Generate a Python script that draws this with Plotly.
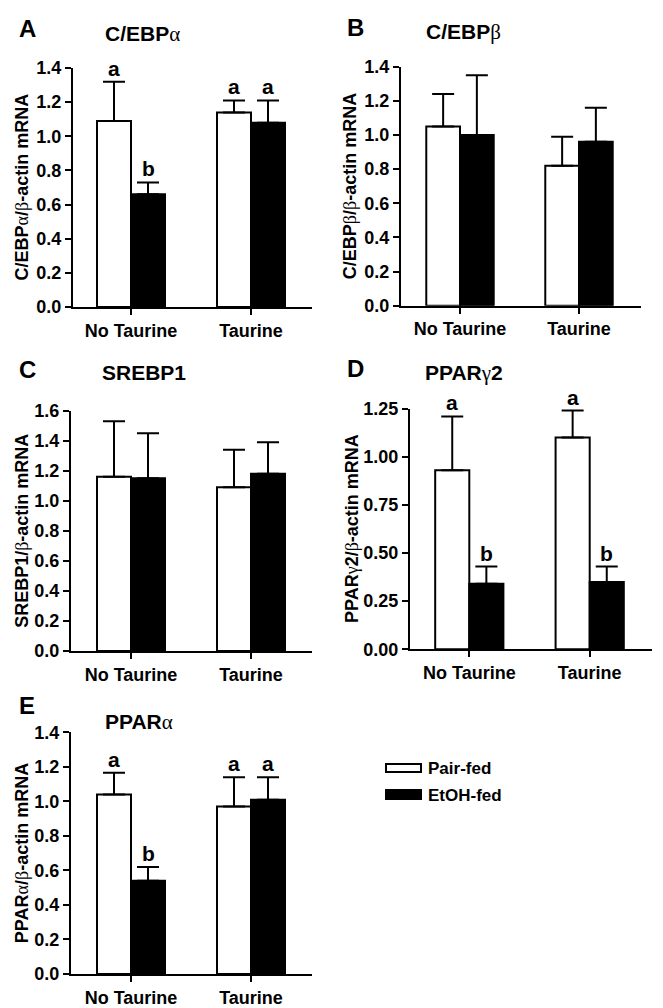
import plotly.graph_objects as go

# ---------------- data ----------------
categories = ["No Taurine", "Taurine"]
series_names = ["Pair-fed", "EtOH-fed"]

cebpa_pair = [1.09, 1.14]
cebpa_pair_sem = [0.23, 0.07]
cebpa_etoh = [0.66, 1.08]
cebpa_etoh_sem = [0.07, 0.13]
cebpa_pair_letters = ["a", "a"]
cebpa_etoh_letters = ["b", "a"]

cebpb_pair = [1.05, 0.82]
cebpb_pair_sem = [0.19, 0.17]
cebpb_etoh = [1.00, 0.96]
cebpb_etoh_sem = [0.35, 0.20]
cebpb_pair_letters = ["", ""]
cebpb_etoh_letters = ["", ""]

srebp1_pair = [1.16, 1.09]
srebp1_pair_sem = [0.37, 0.25]
srebp1_etoh = [1.15, 1.18]
srebp1_etoh_sem = [0.30, 0.21]
srebp1_pair_letters = ["", ""]
srebp1_etoh_letters = ["", ""]

pparg2_pair = [0.93, 1.10]
pparg2_pair_sem = [0.28, 0.14]
pparg2_etoh = [0.34, 0.35]
pparg2_etoh_sem = [0.09, 0.08]
pparg2_pair_letters = ["a", "a"]
pparg2_etoh_letters = ["b", "b"]

ppara_pair = [1.04, 0.97]
ppara_pair_sem = [0.125, 0.17]
ppara_etoh = [0.54, 1.01]
ppara_etoh_sem = [0.08, 0.13]
ppara_pair_letters = ["a", "a"]
ppara_etoh_letters = ["b", "a"]

# ---------------- layout helpers ----------------
W, H = 663, 1008
FONT = "Arial, Liberation Sans, sans-serif"
GREEK = "<span style='font-family:Liberation Serif;font-weight:normal'>%s</span>"
al, be, ga = GREEK % "α", GREEK % "β", GREEK % "γ"

def px(x):
    return x / W

def py(y):
    return 1 - y / H

panels = [
    dict(letter="A", title="C/EBP" + al, ytitle="C/EBP" + al + "/" + be + "-actin mRNA",
         pair=cebpa_pair, pair_sem=cebpa_pair_sem, etoh=cebpa_etoh, etoh_sem=cebpa_etoh_sem,
         pl=cebpa_pair_letters, el=cebpa_etoh_letters,
         ymax=1.4, dtick=0.2, fmt=".1f",
         ax0=73, ax1=312, c0=131, sp=120, y0=307, y1=68,
         lx=17, ly=28, tx=142, ty=34, yx=21),
    dict(letter="B", title="C/EBP" + be, ytitle="C/EBP" + be + "/" + be + "-actin mRNA",
         pair=cebpb_pair, pair_sem=cebpb_pair_sem, etoh=cebpb_etoh, etoh_sem=cebpb_etoh_sem,
         pl=cebpb_pair_letters, el=cebpb_etoh_letters,
         ymax=1.4, dtick=0.2, fmt=".1f",
         ax0=401, ax1=641, c0=460, sp=119, y0=305.7, y1=66.7,
         lx=345, ly=27, tx=463, ty=32, yx=350),
    dict(letter="C", title="SREBP1", ytitle="SREBP1/" + be + "-actin mRNA",
         pair=srebp1_pair, pair_sem=srebp1_pair_sem, etoh=srebp1_etoh, etoh_sem=srebp1_etoh_sem,
         pl=srebp1_pair_letters, el=srebp1_etoh_letters,
         ymax=1.6, dtick=0.2, fmt=".1f",
         ax0=71, ax1=312, c0=131, sp=120, y0=651, y1=410.7,
         lx=17, ly=369, tx=144, ty=372, yx=22),
    dict(letter="D", title="PPAR" + ga + "2", ytitle="PPAR" + ga + "2/" + be + "-actin mRNA",
         pair=pparg2_pair, pair_sem=pparg2_pair_sem, etoh=pparg2_etoh, etoh_sem=pparg2_etoh_sem,
         pl=pparg2_pair_letters, el=pparg2_etoh_letters,
         ymax=1.25, dtick=0.25, fmt=".2f",
         ax0=410, ax1=651.7, c0=469.3, sp=120.4, y0=649.3, y1=408.7,
         lx=345, ly=368, tx=464, ty=373, yx=352),
    dict(letter="E", title="PPAR" + al, ytitle="PPAR" + al + "/" + be + "-actin mRNA",
         pair=ppara_pair, pair_sem=ppara_pair_sem, etoh=ppara_etoh, etoh_sem=ppara_etoh_sem,
         pl=ppara_pair_letters, el=ppara_etoh_letters,
         ymax=1.4, dtick=0.2, fmt=".1f",
         ax0=71, ax1=312, c0=131, sp=120, y0=974, y1=732.3,
         lx=17, ly=705, tx=139, ty=722, yx=22),
]

BW = 34 / 120  # bar width in category units

fig = go.Figure()
annotations = []
layout_axes = {}

for k, p in enumerate(panels, start=1):
    xa = "x" if k == 1 else "x%d" % k
    ya = "y" if k == 1 else "y%d" % k
    common_err = dict(type="data", symmetric=False, arrayminus=[0, 0],
                      color="black", thickness=2, width=11)
    fig.add_trace(go.Bar(
        x=categories, y=p["pair"], name=series_names[0], xaxis=xa, yaxis=ya,
        offset=-BW, width=BW, marker=dict(color="white", line=dict(color="black", width=2)),
        error_y=dict(array=p["pair_sem"], **common_err), showlegend=False))
    fig.add_trace(go.Bar(
        x=categories, y=p["etoh"], name=series_names[1], xaxis=xa, yaxis=ya,
        offset=0, width=BW, marker=dict(color="black", line=dict(color="black", width=2)),
        error_y=dict(array=p["etoh_sem"], **common_err), showlegend=False))

    axis_style = dict(showline=True, linecolor="black", linewidth=2, ticks="outside",
                      tickwidth=2, tickcolor="black", showgrid=False, zeroline=False,
                      automargin=False,
                      tickfont=dict(family=FONT, size=18, color="black", weight="bold"))
    layout_axes["xaxis" if k == 1 else "xaxis%d" % k] = dict(
        axis_style, domain=[px(p["ax0"]), px(p["ax1"])],
        range=[(p["ax0"] - p["c0"]) / p["sp"], (p["ax1"] - p["c0"]) / p["sp"]],
        type="category", anchor=ya, ticklen=6)
    layout_axes["yaxis" if k == 1 else "yaxis%d" % k] = dict(
        axis_style, domain=[py(p["y0"]), py(p["y1"])], range=[0, p["ymax"]],
        dtick=p["dtick"], tick0=0, tickformat=p["fmt"], anchor=xa, ticklen=6)

    annotations.append(dict(text=p["letter"], x=px(p["lx"]), y=py(p["ly"]), xref="paper", yref="paper",
                            xanchor="left", yanchor="middle", showarrow=False,
                            font=dict(family=FONT, size=24, color="black", weight="bold")))
    annotations.append(dict(text=p["title"], x=px(p["tx"]), y=py(p["ty"]), xref="paper", yref="paper",
                            xanchor="center", yanchor="middle", showarrow=False,
                            font=dict(family=FONT, size=21, color="black", weight="bold")))
    annotations.append(dict(text=p["ytitle"], x=px(p["yx"]), y=py((p["y0"] + p["y1"]) / 2),
                            xref="paper", yref="paper",
                            xanchor="center", yanchor="middle", showarrow=False, textangle=-90,
                            font=dict(family=FONT, size=18, color="black", weight="bold")))
    for i in range(len(categories)):
        for letters, vals, sems, off in ((p["pl"], p["pair"], p["pair_sem"], -BW / 2),
                                         (p["el"], p["etoh"], p["etoh_sem"], BW / 2)):
            if letters[i]:
                annotations.append(dict(text=letters[i], x=i + off, y=vals[i] + sems[i],
                                        xref=xa, yref=ya, xanchor="center", yanchor="bottom",
                                        yshift=0, showarrow=False,
                                        font=dict(family=FONT, size=21, color="black", weight="bold")))

# legend drawn manually
shapes = [
    dict(type="rect", xref="paper", yref="paper", x0=px(386), x1=px(421), y0=py(772), y1=py(764),
         fillcolor="white", line=dict(color="black", width=2)),
    dict(type="rect", xref="paper", yref="paper", x0=px(386), x1=px(421), y0=py(799), y1=py(790),
         fillcolor="black", line=dict(color="black", width=2)),
]
for name, yy in zip(series_names, (768, 795)):
    annotations.append(dict(text=name, x=px(426), y=py(yy), xref="paper", yref="paper",
                            xanchor="left", yanchor="middle", showarrow=False,
                            font=dict(family=FONT, size=17, color="black", weight="bold")))

fig.update_layout(width=W, height=H, margin=dict(l=0, r=0, t=0, b=0, pad=0, autoexpand=False),
                  template="none",
                  paper_bgcolor="white", plot_bgcolor="white", barmode="overlay",
                  annotations=annotations, shapes=shapes, **layout_axes)

fig.write_html("out.html", config={"displayModeBar": False},
               post_script="document.body.style.margin='0';document.body.style.overflow='hidden';")
